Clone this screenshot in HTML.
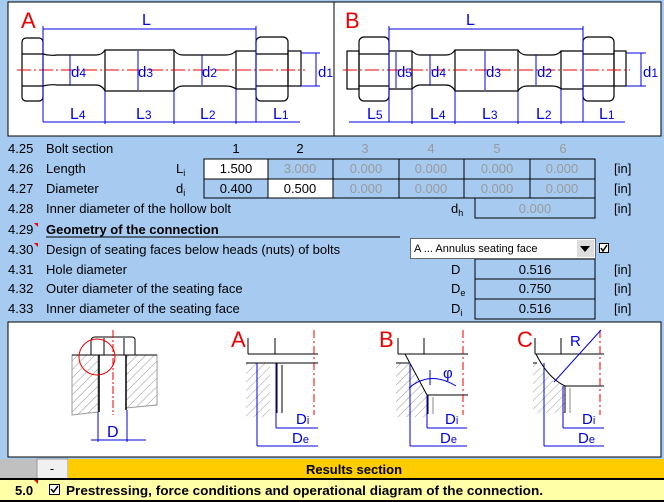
<!DOCTYPE html>
<html><head><meta charset="utf-8"><style>
body{margin:0;background:#a6caf0;}
svg{display:block;font-family:"Liberation Sans",sans-serif;}
.t{font-size:13px;fill:#000}
.g{fill:#9a9a9a}
</style></head><body>
<svg width="664" height="502" viewBox="0 0 664 502">
<defs>
<pattern id="h" width="6" height="6" patternUnits="userSpaceOnUse" patternTransform="rotate(45)"><line x1="0" y1="0" x2="0" y2="6" stroke="#999" stroke-width="1"/></pattern>
</defs>
<rect width="664" height="502" fill="#a6caf0"/>
<rect x="8" y="2" width="326" height="134" fill="#fff" stroke="#000"/>
<rect x="334" y="2" width="327" height="134" fill="#fff" stroke="#000"/>
<!-- Bolt A -->
<g stroke="#000" fill="none" stroke-width="1.2">
<rect x="22" y="38" width="21" height="63" rx="4"/>
<line x1="22" y1="54" x2="43" y2="54"/><line x1="22" y1="86" x2="43" y2="86"/>
<path d="M43 54 Q50 56 57 55 H96 Q102 55 105 50 H174 Q177 55 183 55 H226 Q232 55 236 51 H256 M43 86 Q50 84 57 85 H96 Q102 85 105 91 H174 Q177 86 183 86 H226 Q232 86 236 89 H256"/>
<line x1="236" y1="51" x2="236" y2="89"/><line x1="105" y1="50" x2="105" y2="91"/><line x1="174" y1="50" x2="174" y2="91"/>
<rect x="256" y="37" width="32" height="64" rx="5"/>
<line x1="256" y1="54" x2="288" y2="54"/><line x1="256" y1="86" x2="288" y2="86"/>
<rect x="288" y="51" width="13" height="35"/>
</g>
<line x1="17" y1="70" x2="305" y2="70" stroke="#e00" stroke-dasharray="14,3,2,3"/>
<g stroke="#0000e0" fill="none">
<line x1="43" y1="29" x2="256" y2="29"/><line x1="43" y1="26" x2="43" y2="122"/><line x1="256" y1="26" x2="256" y2="122"/>
<line x1="43" y1="122" x2="300" y2="122"/><line x1="105" y1="91" x2="105" y2="124"/><line x1="174" y1="91" x2="174" y2="124"/><line x1="236" y1="89" x2="236" y2="124"/>
<line x1="70" y1="55" x2="70" y2="85"/><line x1="138" y1="51" x2="138" y2="90"/><line x1="202" y1="55" x2="202" y2="85"/>
<line x1="301" y1="53" x2="320" y2="53"/><line x1="301" y1="86" x2="320" y2="86"/><line x1="316" y1="53" x2="316" y2="86"/>
</g>
<g font-size="16" fill="#0000e0">
<text x="142" y="25">L</text><text x="70" y="119">L<tspan font-size="12">4</tspan></text><text x="136" y="119">L<tspan font-size="12">3</tspan></text><text x="200" y="119">L<tspan font-size="12">2</tspan></text><text x="273" y="119">L<tspan font-size="12">1</tspan></text>
<text x="71" y="77" font-size="15">d<tspan font-size="12">4</tspan></text><text x="138" y="77" font-size="15">d<tspan font-size="12">3</tspan></text><text x="202" y="77" font-size="15">d<tspan font-size="12">2</tspan></text><text x="318" y="77" font-size="15">d<tspan font-size="12">1</tspan></text>
</g>
<text x="21" y="28" font-size="22" fill="#e00">A</text>
<!-- Bolt B -->
<g stroke="#000" fill="none" stroke-width="1.2">
<rect x="347" y="51" width="12" height="38"/>
<rect x="359" y="37" width="30" height="64" rx="5"/>
<line x1="359" y1="54" x2="389" y2="54"/><line x1="359" y1="86" x2="389" y2="86"/>
<path d="M389 51 H412 Q416 55 420 55 H446 Q452 55 455 50 H518 Q521 55 527 55 H552 Q558 55 561 51 H583 M389 89 H412 Q416 85 420 85 H446 Q452 85 455 91 H518 Q521 86 527 86 H552 Q558 86 561 89 H583"/>
<line x1="412" y1="51" x2="412" y2="89"/><line x1="455" y1="50" x2="455" y2="91"/><line x1="518" y1="50" x2="518" y2="91"/><line x1="561" y1="51" x2="561" y2="89"/>
<rect x="583" y="37" width="31" height="64" rx="5"/>
<line x1="583" y1="54" x2="614" y2="54"/><line x1="583" y1="86" x2="614" y2="86"/>
<rect x="614" y="51" width="12" height="35"/>
</g>
<line x1="343" y1="70" x2="630" y2="70" stroke="#e00" stroke-dasharray="14,3,2,3"/>
<g stroke="#0000e0" fill="none">
<line x1="389" y1="29" x2="583" y2="29"/><line x1="389" y1="26" x2="389" y2="122"/><line x1="583" y1="26" x2="583" y2="122"/>
<line x1="349" y1="122" x2="625" y2="122"/><line x1="412" y1="89" x2="412" y2="124"/><line x1="455" y1="91" x2="455" y2="124"/><line x1="518" y1="91" x2="518" y2="124"/><line x1="561" y1="89" x2="561" y2="124"/>
<line x1="396" y1="52" x2="396" y2="88"/><line x1="430" y1="55" x2="430" y2="85"/><line x1="485" y1="51" x2="485" y2="90"/><line x1="536" y1="55" x2="536" y2="85"/>
<line x1="626" y1="53" x2="646" y2="53"/><line x1="626" y1="86" x2="646" y2="86"/><line x1="641" y1="53" x2="641" y2="86"/>
</g>
<g font-size="16" fill="#0000e0">
<text x="466" y="25">L</text><text x="367" y="119">L<tspan font-size="12">5</tspan></text><text x="430" y="119">L<tspan font-size="12">4</tspan></text><text x="482" y="119">L<tspan font-size="12">3</tspan></text><text x="536" y="119">L<tspan font-size="12">2</tspan></text><text x="599" y="119">L<tspan font-size="12">1</tspan></text>
<text x="397" y="77" font-size="15">d<tspan font-size="12">5</tspan></text><text x="431" y="77" font-size="15">d<tspan font-size="12">4</tspan></text><text x="486" y="77" font-size="15">d<tspan font-size="12">3</tspan></text><text x="537" y="77" font-size="15">d<tspan font-size="12">2</tspan></text><text x="643" y="77" font-size="15">d<tspan font-size="12">1</tspan></text>
</g>
<text x="345" y="28" font-size="22" fill="#e00">B</text>

<!-- table -->
<g class="t">
<text x="8" y="153">4.25</text><text x="46" y="153">Bolt section</text>
<text x="8" y="173">4.26</text><text x="46" y="173">Length</text><text x="176" y="173">L<tspan font-size="9" dy="3">i</tspan></text>
<text x="8" y="193">4.27</text><text x="46" y="193">Diameter</text><text x="176" y="193">d<tspan font-size="9" dy="3">i</tspan></text>
<text x="8" y="213">4.28</text><text x="46" y="213">Inner diameter of the hollow bolt</text><text x="451" y="213">d<tspan font-size="9" dy="3">h</tspan></text>
<text x="8" y="234">4.29</text><text x="46" y="234" font-weight="bold">Geometry of the connection</text>
<text x="8" y="254">4.30</text><text x="46" y="254">Design of seating faces below heads (nuts) of bolts</text>
<text x="8" y="274">4.31</text><text x="46" y="274">Hole diameter</text><text x="451" y="274">D</text>
<text x="8" y="293">4.32</text><text x="46" y="293">Outer diameter of the seating face</text><text x="451" y="293">D<tspan font-size="9" dy="3">e</tspan></text>
<text x="8" y="313">4.33</text><text x="46" y="313">Inner diameter of the seating face</text><text x="451" y="313">D<tspan font-size="9" dy="3">i</tspan></text>
<text x="614" y="173">[in]</text><text x="614" y="193">[in]</text><text x="614" y="213">[in]</text><text x="614" y="274">[in]</text><text x="614" y="293">[in]</text><text x="614" y="313">[in]</text>
</g>
<line x1="46" y1="237" x2="400" y2="237" stroke="#000"/>
<path d="M34 223 l4 0 0 4z M34 243 l4 0 0 4z" fill="#e00"/>
<g class="t" text-anchor="middle">
<text x="236" y="153">1</text><text x="300" y="153">2</text>
<text x="365" y="153" class="g">3</text><text x="431" y="153" class="g">4</text><text x="497" y="153" class="g">5</text><text x="563" y="153" class="g">6</text>
</g>
<rect x="204" y="159" width="64" height="20" fill="#fff"/>
<rect x="268" y="179" width="65" height="19" fill="#fff"/>
<g stroke="#000" fill="none">
<rect x="204" y="159" width="391" height="39"/>
<line x1="204" y1="179" x2="595" y2="179"/>
<line x1="268" y1="159" x2="268" y2="198"/><line x1="333" y1="159" x2="333" y2="198"/><line x1="399" y1="159" x2="399" y2="198"/><line x1="464" y1="159" x2="464" y2="198"/><line x1="530" y1="159" x2="530" y2="198"/>
<rect x="475" y="198" width="120" height="20"/>
<rect x="475" y="259" width="120" height="60"/><line x1="475" y1="279" x2="595" y2="279"/><line x1="475" y1="299" x2="595" y2="299"/>
</g>
<g class="t" text-anchor="middle">
<text x="236" y="173">1.500</text><text x="300" y="173" class="g">3.000</text><text x="366" y="173" class="g">0.000</text><text x="431" y="173" class="g">0.000</text><text x="497" y="173" class="g">0.000</text><text x="562" y="173" class="g">0.000</text>
<text x="236" y="193">0.400</text><text x="300" y="193">0.500</text><text x="366" y="193" class="g">0.000</text><text x="431" y="193" class="g">0.000</text><text x="497" y="193" class="g">0.000</text><text x="562" y="193" class="g">0.000</text>
<text x="535" y="213" class="g">0.000</text>
<text x="535" y="274">0.516</text><text x="535" y="293">0.750</text><text x="535" y="313">0.516</text>
</g>
<rect x="410.5" y="238.5" width="185" height="20" fill="#fff" stroke="#666"/>
<text x="414" y="252" font-size="11">A ... Annulus seating face</text>
<rect x="577" y="240" width="17" height="17" fill="#ddd"/>
<path d="M580 246 h10 l-5 6z" fill="#000"/>
<rect x="599.5" y="243.5" width="9" height="9" fill="#fff" stroke="#000"/>
<path d="M601 248 l2 3 l4 -6" stroke="#000" fill="none" stroke-width="1.5"/>

<!-- bottom panel -->
<rect x="8" y="322" width="653" height="135" fill="#fff" stroke="#000"/>
<g stroke="#000" fill="none">
<path d="M91 340 Q92 337 95 337 H132 Q135 337 135 340 V355 H91 Z"/>
<line x1="104" y1="338" x2="104" y2="355"/><line x1="124" y1="338" x2="124" y2="355"/>
<path d="M72 355 H98 V412 L72 415 Z" fill="url(#h)" stroke="#999"/>
<path d="M126 355 H157 V405 L126 408 Z" fill="url(#h)" stroke="#999"/>
<line x1="72" y1="355" x2="157" y2="355" stroke="#000"/>
<line x1="99" y1="355" x2="99" y2="412" stroke-width="1.5"/><line x1="126" y1="355" x2="126" y2="410" stroke-width="1.5"/>
</g>
<line x1="113" y1="330" x2="113" y2="415" stroke="#e00" stroke-dasharray="8,2,2,2"/>
<circle cx="97" cy="357" r="18" fill="none" stroke="#e00"/>
<g stroke="#0000e0" fill="none"><line x1="98" y1="412" x2="98" y2="442"/><line x1="127" y1="410" x2="127" y2="442"/><line x1="91" y1="440" x2="146" y2="440"/></g>
<text x="107" y="437" font-size="16" fill="#0000e0">D</text>
<!-- fig A -->
<text x="231" y="347" font-size="22" fill="#e00">A</text>
<g stroke="#000" fill="none">
<line x1="248" y1="338" x2="248" y2="354"/><line x1="275" y1="338" x2="275" y2="354"/><line x1="248" y1="354" x2="318" y2="354"/>
<rect x="246" y="363" width="24" height="54" fill="url(#h)" stroke="none"/>
<line x1="246" y1="363" x2="318" y2="363"/>
<line x1="277" y1="363" x2="277" y2="413"/><line x1="282" y1="365" x2="282" y2="413"/>
</g>
<line x1="314" y1="330" x2="314" y2="415" stroke="#e00" stroke-dasharray="8,3,2,3"/>
<g stroke="#0000e0" fill="none"><line x1="276" y1="363" x2="276" y2="428"/><line x1="276" y1="428" x2="318" y2="428"/><line x1="257" y1="363" x2="257" y2="446"/><line x1="257" y1="446" x2="318" y2="446"/></g>
<text x="296" y="424" font-size="15" fill="#0000e0">D<tspan font-size="11">i</tspan></text>
<text x="292" y="443" font-size="15" fill="#0000e0">D<tspan font-size="11">e</tspan></text>
<!-- fig B -->
<text x="379" y="347" font-size="22" fill="#e00">B</text>
<g stroke="#000" fill="none">
<line x1="398" y1="338" x2="398" y2="354"/><line x1="424" y1="338" x2="424" y2="354"/><line x1="398" y1="354" x2="468" y2="354"/>
<path d="M396 363 H409 L427 395 V417 H396 Z" fill="url(#h)" stroke="none"/>
<path d="M396 363 H409 M405 354 L427 395 H468"/>
<line x1="428" y1="395" x2="428" y2="414"/><line x1="433" y1="397" x2="433" y2="414" stroke="#888"/>
</g>
<line x1="463" y1="330" x2="463" y2="415" stroke="#e00" stroke-dasharray="8,3,2,3"/>
<g stroke="#0000e0" fill="none"><line x1="427" y1="395" x2="427" y2="428"/><line x1="427" y1="428" x2="467" y2="428"/><line x1="410" y1="363" x2="410" y2="446"/><line x1="410" y1="446" x2="467" y2="446"/>
<path d="M409 388 Q430 370 456 386"/><line x1="430" y1="370" x2="430" y2="385"/></g>
<text x="443" y="378" font-size="15" fill="#0000e0">φ</text>
<text x="445" y="424" font-size="15" fill="#0000e0">D<tspan font-size="11">i</tspan></text>
<text x="440" y="443" font-size="15" fill="#0000e0">D<tspan font-size="11">e</tspan></text>
<!-- fig C -->
<text x="517" y="347" font-size="22" fill="#e00">C</text>
<g stroke="#000" fill="none">
<line x1="535" y1="338" x2="535" y2="354"/><line x1="561" y1="338" x2="561" y2="354"/><line x1="535" y1="354" x2="604" y2="354"/>
<path d="M533 363 H537 Q548 380 565 386 V413 H533 Z" fill="url(#h)" stroke="none"/>
<path d="M533 363 H537 M536 354 Q548 378 565 386 H604"/>
<line x1="565" y1="386" x2="565" y2="413"/><line x1="570" y1="388" x2="570" y2="413" stroke="#888"/>
</g>
<line x1="600" y1="330" x2="600" y2="415" stroke="#e00" stroke-dasharray="8,3,2,3"/>
<g stroke="#0000e0" fill="none"><line x1="554" y1="382" x2="601" y2="330"/><line x1="563" y1="386" x2="563" y2="428"/><line x1="563" y1="428" x2="604" y2="428"/><line x1="544" y1="363" x2="544" y2="446"/><line x1="544" y1="446" x2="604" y2="446"/></g>
<text x="570" y="346" font-size="15" fill="#0000e0">R</text>
<text x="582" y="424" font-size="15" fill="#0000e0">D<tspan font-size="11">i</tspan></text>
<text x="578" y="443" font-size="15" fill="#0000e0">D<tspan font-size="11">e</tspan></text>

<!-- results -->
<rect x="0" y="459" width="37" height="20" fill="#c0c0c0"/>
<rect x="37" y="459" width="31" height="20" fill="#f0f0f0" stroke="#999"/>
<text x="52" y="473" class="t" text-anchor="middle">-</text>
<rect x="68" y="459" width="596" height="20" fill="#ffcc00"/>
<text x="354" y="474" class="t" font-weight="bold" text-anchor="middle">Results section</text>
<rect x="0" y="478" width="664" height="2" fill="#000"/>
<rect x="0" y="480" width="664" height="20" fill="#ffffa8"/>
<rect x="0" y="500" width="664" height="2" fill="#000"/>
<text x="15" y="495" class="t" font-weight="bold">5.0</text>
<path d="M34 480 h4 v4z" fill="#e00"/>
<rect x="49.5" y="484.5" width="10" height="10" fill="#fff" stroke="#000"/>
<path d="M51 489 l2.5 3 l4.5 -6" stroke="#000" fill="none" stroke-width="1.5"/>
<text x="66" y="495" class="t" font-weight="bold" font-size="13.5" textLength="477" lengthAdjust="spacingAndGlyphs">Prestressing, force conditions and operational diagram of the connection.</text>
</svg>
</body></html>
